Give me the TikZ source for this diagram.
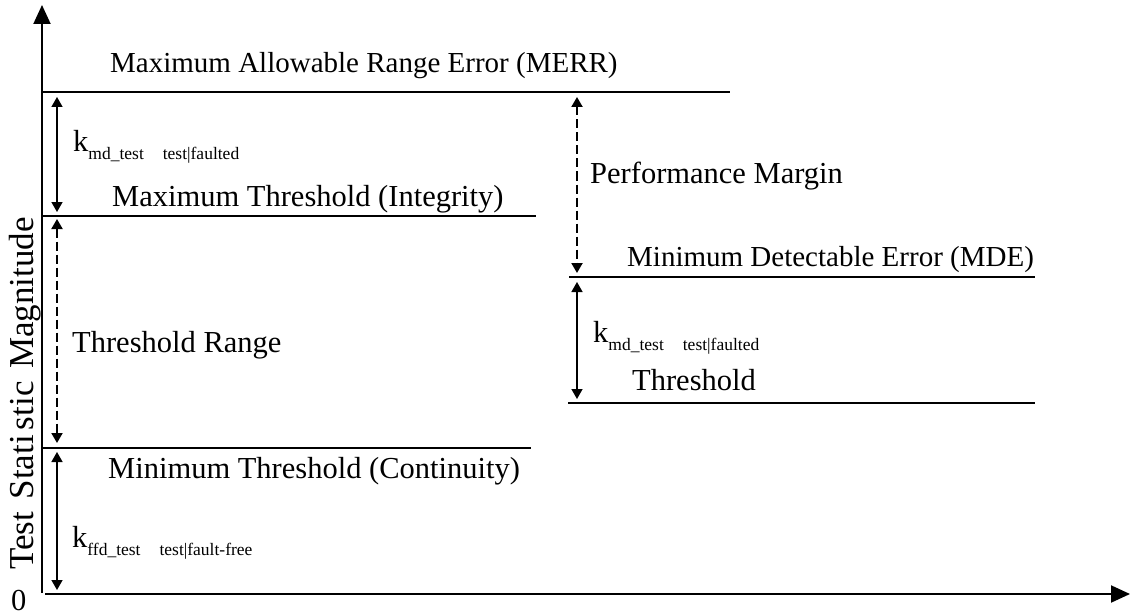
\documentclass[tikz,border=0pt]{standalone}
\usepackage{fontspec}
\setmainfont{Liberation Serif}
\usetikzlibrary{arrows.meta}

% k with a two-part subscript
\newcommand\kterm[2]{k\raisebox{-8pt}{\fontsize{17.5}{20}\selectfont #1\hspace{19pt}#2}}

\begin{document}
\begin{tikzpicture}[x=1pt,y=-1pt,
  lbl/.style={anchor=base west, inner sep=0pt, font=\fontsize{30.5}{34}\selectfont},
  lblnarrow/.style={lbl, font=\fontsize{29}{33}\selectfont},
  level/.style={line width=2pt},
  axis/.style={line width=2pt, -{Triangle[length=19pt,width=17pt]}},
  span/.style={line width=1.5pt, {Triangle[length=10pt,width=11pt]}-{Triangle[length=10pt,width=11pt]}},
  dspan/.style={span, line width=2pt, dash pattern=on 9pt off 4pt},
]
\useasboundingbox (0,0) rectangle (1130,615);

% axes
\coordinate (yb) at (42,593);
\coordinate (yt) at (42,5);
\coordinate (xl) at (45,594);
\coordinate (xr) at (1130,594);
\draw[axis] (yb) -- (yt);
\draw[axis] (xl) -- (xr);

% level lines
\coordinate (merrA) at (42,92);   \coordinate (merrB) at (730,92);
\coordinate (maxA) at (42,216);   \coordinate (maxB) at (536,216);
\coordinate (minA) at (42,448);   \coordinate (minB) at (531,448);
\coordinate (mdeA) at (569,277);  \coordinate (mdeB) at (1035,277);
\coordinate (thrA) at (568,403);  \coordinate (thrB) at (1035,403);
\draw[level] (merrA) -- (merrB);
\draw[level] (maxA) -- (maxB);
\draw[level] (minA) -- (minB);
\draw[level] (mdeA) -- (mdeB);
\draw[level] (thrA) -- (thrB);

% spans between levels
\coordinate (s1a) at (57,97);   \coordinate (s1b) at (57,212);
\coordinate (s2a) at (57,219);  \coordinate (s2b) at (57,443);
\coordinate (s3a) at (57,452);  \coordinate (s3b) at (57,590);
\coordinate (s4a) at (577,97);  \coordinate (s4b) at (577,273);
\coordinate (s5a) at (577,282); \coordinate (s5b) at (577,399);
\draw[span]  (s1a) -- (s1b);
\draw[dspan] (s2a) -- (s2b);
\draw[span]  (s3a) -- (s3b);
\draw[dspan] (s4a) -- (s4b);
\draw[span]  (s5a) -- (s5b);

% labels
\node[lblnarrow] (merr) at (110,73)  {Maximum Allowable Range Error (MERR)};
\node[lbl] (k1)   at (73,152)  {\kterm{md\_test}{test|faulted}};
\node[lbl] (maxT) at (112,206) {Maximum Threshold (Integrity)};
\node[lbl] (rng)  at (72,352)  {Threshold Range};
\node[lbl] (minT) at (108,478) {Minimum Threshold (Continuity)};
\node[lbl] (k2)   at (72,547)  {\kterm{ffd\_test}{test|fault-free}};
\node[lbl] (pm)   at (590,183) {Performance Margin};
\node[lblnarrow] (mde) at (627,266) {Minimum Detectable Error (MDE)};
\node[lbl] (k3)   at (593,342) {\kterm{md\_test}{test|faulted}};
\node[lbl] (thr)  at (632,390) {Threshold};
\node[lbl] (zero) at (11,610)  {0};
\node[lbl, rotate=90, font=\fontsize{35}{38}\selectfont] (ylab) at (33,570)
  {Test\hspace{4pt} Stati\kern5pt stic\hspace{4pt} Magnitude};
\end{tikzpicture}
\end{document}
